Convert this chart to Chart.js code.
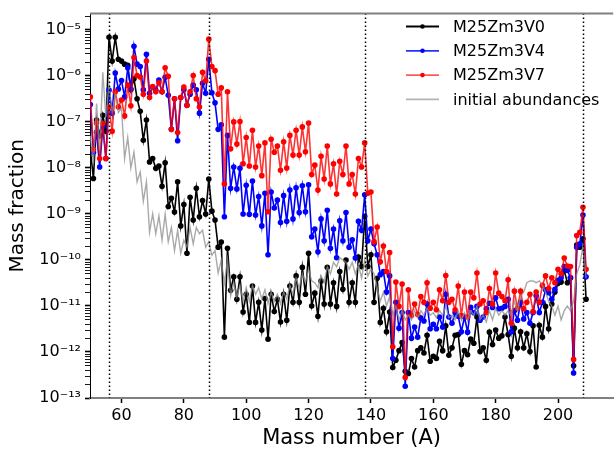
<!DOCTYPE html>
<html lang="en">
  <head>
    <meta charset="UTF-8" />
    <title>Mass fraction vs mass number</title>
    <style>
      html, body { margin: 0; padding: 0; background: #fff; }
      canvas { display: block; }
    </style>
  </head>
  <body>
    <canvas id="myChart" width="616" height="452"></canvas>

    <script src="https://cdn.jsdelivr.net/npm/chart.js"></script>

    <script>
      // mass numbers A = 50 ... 209
      const massNumbers = [
        50, 51, 52, 53, 54, 55, 56, 57, 58, 59, 60, 61, 62, 63, 64, 65, 66, 67, 68, 69,
        70, 71, 72, 73, 74, 75, 76, 77, 78, 79, 80, 81, 82, 83, 84, 85, 86, 87, 88, 89,
        90, 91, 92, 93, 94, 95, 96, 97, 98, 99, 100, 101, 102, 103, 104, 105, 106, 107, 108, 109,
        110, 111, 112, 113, 114, 115, 116, 117, 118, 119, 120, 121, 122, 123, 124, 125, 126, 127, 128, 129,
        130, 131, 132, 133, 134, 135, 136, 137, 138, 139, 140, 141, 142, 143, 144, 145, 146, 147, 148, 149,
        150, 151, 152, 153, 154, 155, 156, 157, 158, 159, 160, 161, 162, 163, 164, 165, 166, 167, 168, 169,
        170, 171, 172, 173, 174, 175, 176, 177, 178, 179, 180, 181, 182, 183, 184, 185, 186, 187, 188, 189,
        190, 191, 192, 193, 194, 195, 196, 197, 198, 199, 200, 201, 202, 203, 204, 205, 206, 207, 208, 209,
      ];

      const m25V0 = [
        2.5e-8, 5.9e-9, 1.1e-7, 5.0e-8, 1.4e-7, 6.3e-8, 6.9e-6, 2.1e-6, 6.9e-6, 2.3e-6,
        2.1e-6, 1.8e-6, 1.7e-6, 5.0e-7, 8.7e-7, 3.2e-7, 1.7e-7, 4.0e-8, 1.1e-7, 1.35e-8,
        1.6e-8, 9.8e-9, 1.1e-8, 4.0e-9, 1.3e-8, 1.45e-9, 2.2e-9, 1.1e-9, 5.0e-9, 5.5e-10,
        1.6e-9, 1.4e-10, 2.3e-9, 7.4e-10, 3.6e-9, 8.7e-10, 1.95e-9, 1.0e-9, 5.75e-9, 1.15e-9,
        7.4e-10, 1.9e-10, 2.45e-10, 2.1e-12, 1.8e-10, 2.2e-11, 4.3e-11, 1.4e-11, 4.3e-11, 7.4e-12,
        1.8e-11, 4.4e-12, 2.7e-11, 4.4e-12, 1.2e-11, 3.0e-12, 1.45e-11, 1.9e-12, 1.8e-11, 7.6e-12,
        1.4e-11, 4.5e-12, 1.8e-11, 4.9e-12, 2.7e-11, 1.2e-11, 4.5e-11, 1.2e-11, 6.9e-11, 1.8e-11,
        1.4e-10, 1.0e-11, 1.9e-11, 6.0e-12, 3.5e-11, 1.1e-11, 6.9e-11, 1.1e-11, 3.2e-11, 9.8e-12,
        5.6e-11, 2.3e-11, 1.0e-10, 1.2e-11, 3.2e-11, 1.2e-11, 1.15e-10, 7.2e-11, 8.9e-10, 7.2e-11,
        1.3e-10, 1.2e-11, 4.0e-11, 4.4e-12, 8.9e-12, 2.75e-12, 7.4e-12, 4.6e-13, 6.6e-13, 1.07e-12,
        1.6e-12, 3.8e-13, 3.4e-13, 7.2e-13, 4.7e-13, 1.07e-12, 1.23e-12, 9.5e-13, 2.3e-12, 6.3e-13,
        8.1e-13, 7.2e-13, 1.7e-12, 1.07e-12, 3.7e-12, 8.5e-13, 1.23e-12, 2.3e-12, 2.4e-12, 5.4e-13,
        1.07e-12, 8.7e-13, 1.9e-12, 1.55e-12, 5.75e-12, 1.02e-12, 1.23e-12, 6.6e-13, 2.7e-12, 1.45e-12,
        3.0e-12, 2.0e-12, 2.24e-12, 5.75e-12, 2.4e-12, 8.1e-13, 3.3e-12, 1.23e-12, 2.75e-12, 1.23e-12,
        2.5e-12, 1.02e-12, 3.7e-12, 4.7e-13, 3.8e-12, 2.1e-12, 9.8e-12, 3.2e-12, 1.1e-11, 2.0e-11,
        3.1e-11, 3.3e-11, 5.9e-11, 3.2e-11, 4.1e-11, 5.0e-13, 2.1e-10, 1.9e-10, 2.9e-10, 1.4e-11,
      ];

      const m25V4 = [
        2.4e-7, 2.2e-8, 6.0e-8, 1.05e-8, 7.9e-8, 1.6e-8, 4.9e-7, 1.55e-7, 1.15e-6, 5.2e-7,
        7.9e-7, 3.5e-7, 1.5e-6, 5.2e-7, 4.4e-6, 1.8e-6, 1.6e-6, 5.0e-7, 2.95e-6, 4.2e-7,
        5.75e-7, 4.9e-7, 8.1e-7, 4.5e-7, 9.3e-7, 3.8e-7, 6.9e-8, 3.2e-7, 3.9e-8, 3.4e-7,
        5.0e-7, 2.3e-7, 4.0e-7, 6.3e-7, 5.0e-7, 1.55e-7, 6.9e-7, 4.2e-7, 2.3e-6, 4.3e-7,
        2.6e-7, 6.9e-8, 8.7e-8, 8.7e-10, 5.1e-8, 3.6e-9, 1.05e-8, 3.5e-9, 9.8e-9, 1.0e-9,
        4.2e-9, 9.8e-10, 5.2e-9, 9.5e-10, 2.4e-9, 5.5e-10, 2.8e-9, 1.3e-10, 3.0e-9, 1.35e-9,
        2.0e-9, 6.5e-10, 2.5e-9, 6.9e-10, 3.3e-9, 7.8e-10, 3.7e-9, 1.07e-9, 4.1e-9, 1.12e-9,
        4.3e-9, 3.2e-10, 4.7e-10, 1.5e-10, 7.8e-10, 2.6e-10, 1.2e-9, 1.8e-10, 4.7e-10, 1.12e-10,
        7.1e-10, 2.6e-10, 1.07e-9, 1.9e-10, 2.75e-10, 1.1e-10, 6.9e-10, 4.4e-10, 2.6e-9, 2.6e-10,
        4.7e-10, 2.24e-10, 1.3e-10, 4.8e-11, 5.6e-11, 2.0e-11, 4.5e-11, 7.2e-13, 1.2e-11, 3.3e-12,
        7.2e-12, 1.8e-13, 7.2e-12, 2.0e-12, 3.5e-12, 2.1e-12, 5.5e-12, 4.7e-12, 1.1e-11, 3.2e-12,
        4.0e-12, 3.2e-12, 5.75e-12, 3.5e-12, 1.8e-11, 5.75e-12, 4.2e-12, 7.2e-12, 6.0e-12, 2.75e-12,
        5.75e-12, 2.7e-12, 9.3e-12, 7.1e-12, 9.8e-12, 4.9e-12, 5.75e-12, 8.7e-12, 1.15e-11, 9.3e-12,
        1.5e-11, 8.7e-12, 8.9e-12, 9.8e-12, 1.4e-11, 2.75e-12, 7.9e-12, 4.9e-12, 1.2e-11, 5.2e-12,
        7.2e-12, 4.2e-12, 7.2e-12, 1.66e-11, 7.2e-12, 1.2e-11, 2.24e-11, 1.95e-11, 1.4e-11, 2.3e-11,
        3.6e-11, 4.1e-11, 7.2e-11, 5.9e-11, 4.1e-11, 3.5e-13, 1.9e-10, 2.24e-10, 9.5e-10, 4.3e-11,
      ];

      const m25V7 = [
        3.5e-7, 2.5e-8, 9.5e-8, 1.6e-8, 9.1e-8, 1.6e-8, 2.1e-7, 6.3e-8, 4.5e-7, 2.1e-7,
        3.0e-7, 1.35e-7, 6.3e-7, 2.24e-7, 2.5e-6, 1.02e-6, 9.5e-7, 4.0e-7, 2.1e-6, 3.4e-7,
        5.9e-7, 4.5e-7, 7.1e-7, 4.5e-7, 1.5e-6, 9.8e-7, 6.9e-8, 3.2e-7, 5.9e-8, 3.4e-7,
        5.75e-7, 2.3e-7, 4.5e-7, 1.02e-6, 3.2e-7, 2.1e-7, 1.2e-6, 7.8e-7, 6.3e-6, 1.6e-6,
        1.3e-6, 4.0e-7, 5.5e-7, 4.5e-9, 4.5e-7, 2.6e-8, 1.0e-7, 3.3e-8, 1.02e-7, 1.23e-8,
        4.6e-8, 1.1e-8, 6.6e-8, 1.05e-8, 3.0e-8, 6.8e-9, 3.5e-8, 1.12e-9, 4.2e-8, 2.2e-8,
        3.0e-8, 8.9e-9, 3.7e-8, 1.0e-8, 5.1e-8, 1.9e-8, 6.6e-8, 1.9e-8, 7.8e-8, 2.24e-8,
        9.5e-8, 7.2e-9, 1.15e-8, 3.3e-9, 1.8e-8, 5.75e-9, 3.0e-8, 4.5e-9, 1.23e-8, 2.7e-9,
        1.4e-8, 7.2e-9, 3.0e-8, 4.5e-9, 7.2e-9, 2.7e-9, 1.6e-8, 1.05e-8, 3.5e-8, 2.8e-9,
        3.0e-9, 2.5e-10, 5.2e-10, 9.1e-11, 2.0e-10, 5.6e-11, 1.45e-10, 1.3e-12, 3.3e-11, 9.8e-12,
        3.0e-11, 2.8e-13, 2.24e-11, 6.2e-12, 1.1e-11, 6.5e-12, 1.6e-11, 1.2e-11, 3.2e-11, 8.9e-12,
        1.2e-11, 8.3e-12, 2.24e-11, 1.3e-11, 4.6e-11, 1.2e-11, 1.4e-11, 8.3e-12, 2.7e-11, 6.2e-12,
        2.0e-11, 5.75e-12, 2.0e-11, 1.5e-11, 5.2e-11, 1.1e-11, 1.3e-11, 7.2e-12, 2.4e-11, 1.1e-11,
        5.2e-11, 1.9e-11, 1.6e-11, 1.3e-11, 3.7e-11, 4.2e-12, 2.1e-11, 8.9e-12, 2.1e-11, 8.7e-12,
        1.2e-11, 1.8e-11, 7.6e-12, 2.0e-11, 1.2e-11, 2.8e-11, 4.5e-11, 2.4e-11, 4.1e-11, 3.2e-11,
        6.3e-11, 5.0e-11, 1.1e-10, 7.4e-11, 7.2e-11, 6.9e-13, 3.4e-10, 4.0e-10, 1.4e-9, 6.3e-11,
      ];

      const initialAbund = [
        5.0e-8, 1.26e-8, 2.5e-7, 2.5e-8, 1.2e-6, 1.26e-7, 6.3e-7, 1.6e-7, 4.0e-7, 1.6e-7,
        2.0e-7, 1.6e-8, 4.6e-8, 1.0e-8, 2.2e-8, 5.0e-9, 8.1e-9, 1.9e-9, 5.0e-9, 4.0e-10,
        1.0e-9, 3.7e-10, 9.1e-10, 2.7e-10, 9.8e-10, 2.5e-10, 5.1e-10, 1.6e-10, 4.4e-10, 1.4e-10,
        2.7e-10, 1.9e-10, 5.1e-10, 2.24e-10, 5.1e-10, 3.7e-10, 4.4e-10, 1.9e-10, 2.5e-10, 1.26e-10,
        1.6e-10, 5.2e-11, 1.0e-10, 3.2e-11, 1.0e-10, 1.66e-11, 3.2e-11, 1.6e-11, 2.8e-11, 1.26e-11,
        2.5e-11, 1.26e-11, 2.8e-11, 1.8e-11, 2.5e-11, 1.4e-11, 2.24e-11, 1.12e-11, 2.0e-11, 1.26e-11,
        1.8e-11, 1.12e-11, 2.0e-11, 1.4e-11, 2.8e-11, 1.8e-11, 4.0e-11, 2.5e-11, 5.0e-11, 3.2e-11,
        6.3e-11, 3.5e-11, 3.2e-11, 2.5e-11, 4.5e-11, 3.2e-11, 7.1e-11, 5.0e-11, 8.9e-11, 7.1e-11,
        1.12e-10, 1.0e-10, 8.9e-11, 6.3e-11, 8.9e-11, 5.0e-11, 7.9e-11, 4.0e-11, 1.0e-10, 4.5e-11,
        6.3e-11, 5.0e-11, 2.5e-11, 1.26e-11, 2.0e-11, 1.0e-11, 1.6e-11, 6.3e-12, 1.0e-11, 5.0e-12,
        7.9e-12, 5.0e-12, 6.3e-12, 5.0e-12, 7.9e-12, 5.6e-12, 7.9e-12, 6.3e-12, 8.9e-12, 6.3e-12,
        7.1e-12, 5.6e-12, 7.9e-12, 6.3e-12, 1.0e-11, 5.6e-12, 6.3e-12, 5.0e-12, 7.9e-12, 5.0e-12,
        7.1e-12, 5.0e-12, 7.9e-12, 6.3e-12, 1.0e-11, 5.0e-12, 6.3e-12, 4.5e-12, 7.9e-12, 5.0e-12,
        8.9e-12, 6.3e-12, 7.9e-12, 6.3e-12, 7.9e-12, 6.3e-12, 1.26e-11, 7.9e-12, 1.6e-11, 2.0e-11,
        3.2e-11, 3.5e-11, 3.5e-11, 3.2e-11, 3.5e-11, 2.8e-11, 2.0e-11, 1.26e-11, 1.0e-11, 6.3e-12,
        1.0e-11, 5.0e-12, 7.9e-12, 1.0e-11, 7.9e-12, 1.26e-11, 5.0e-11, 7.9e-11, 2.0e-10, 4.0e-11,
      ];

      // dotted verticals (magic-number peaks)
      const markerLines = [56, 88, 138, 208];
      const xTickValues = [60, 80, 100, 120, 140, 160, 180, 200];
      const yDecades = [-13, -12, -11, -10, -9, -8, -7, -6, -5];

      const FONT = "DejaVu Sans";
      Chart.defaults.font.family = FONT;
      Chart.defaults.color = "#000";

      const toPoints = (vals) => massNumbers.map((a, i) => ({ x: a, y: vals[i] }));

      const supMap = { "-": "\u207B", 0: "\u2070", 1: "\u00B9", 2: "\u00B2", 3: "\u00B3", 4: "\u2074", 5: "\u2075", 6: "\u2076", 7: "\u2077", 8: "\u2078", 9: "\u2079" };
      const isDecade = (v) => {
        const l = Math.log10(v);
        return Math.abs(l - Math.round(l)) < 1e-6;
      };

      // dotted vertical lines, top spine and legend
      const extras = {
        id: "extras",
        afterDatasetsDraw(chart) {
          const { ctx, chartArea: { top, bottom, left, right }, scales: { x } } = chart;
          ctx.save();
          ctx.strokeStyle = "#000";
          ctx.lineWidth = 1.5;
          ctx.setLineDash([1.5, 2.5]);
          markerLines.forEach((a) => {
            const px = Math.round(x.getPixelForValue(a)) + 0.5;
            ctx.beginPath();
            ctx.moveTo(px, top);
            ctx.lineTo(px, bottom);
            ctx.stroke();
          });
          ctx.setLineDash([]);
          ctx.strokeStyle = "#808080";
          ctx.lineWidth = 2;
          ctx.beginPath();
          ctx.moveTo(left, top);
          ctx.lineTo(right, top);
          ctx.stroke();
          ctx.restore();
        },
        afterDraw(chart) {
          const { ctx } = chart;
          ctx.save();
          chart.data.datasets.forEach((ds, i) => {
            const y = 26.5 + i * 24.3;
            ctx.strokeStyle = ds.legendLine;
            ctx.lineWidth = 1.8;
            ctx.beginPath();
            ctx.moveTo(406, y);
            ctx.lineTo(439, y);
            ctx.stroke();
            if (ds.pointRadius > 0) {
              ctx.fillStyle = ds.pointBackgroundColor;
              ctx.beginPath();
              ctx.arc(422.5, y, 2.3, 0, Math.PI * 2);
              ctx.fill();
            }
            ctx.fillStyle = "#000";
            ctx.font = `16px "${FONT}"`;
            ctx.textAlign = "left";
            ctx.textBaseline = "middle";
            ctx.fillText(ds.label, 453, y + 1);
          });
          ctx.restore();
        },
      };

      const ctx = document.getElementById("myChart").getContext("2d");

      new Chart(ctx, {
        type: "line",
        data: {
          datasets: [
            {
              label: "M25Zm3V0",
              data: toPoints(m25V0),
              borderColor: "#000",
              legendLine: "#000",
              pointBackgroundColor: "#000",
              borderWidth: 1.6,
              pointRadius: 2.8,
              pointBorderWidth: 0,
              order: 4,
            },
            {
              label: "M25Zm3V4",
              data: toPoints(m25V4),
              borderColor: "#0000ff",
              legendLine: "#2233ff",
              pointBackgroundColor: "#0000ff",
              borderWidth: 1.6,
              pointRadius: 2.8,
              pointBorderWidth: 0,
              order: 3,
            },
            {
              label: "M25Zm3V7",
              data: toPoints(m25V7),
              borderColor: "rgba(255, 0, 0, 0.8)",
              legendLine: "rgba(255, 60, 60, 0.85)",
              pointBackgroundColor: "#ff0000",
              borderWidth: 1.6,
              pointRadius: 2.8,
              pointBorderWidth: 0,
              order: 2,
            },
            {
              label: "initial abundances",
              data: toPoints(initialAbund),
              borderColor: "rgba(140, 140, 140, 0.75)",
              legendLine: "#b4b4b4",
              pointBackgroundColor: "#aaa",
              borderWidth: 1.4,
              pointRadius: 0,
              order: 1,
            },
          ],
        },
        options: {
          responsive: false,
          animation: false,
          devicePixelRatio: 1,
          layout: { padding: { top: 5, right: 0, left: 0, bottom: 0 } },
          elements: { line: { tension: 0 }, point: { hoverRadius: 2.8 } },
          plugins: {
            legend: { display: false },
            tooltip: { enabled: false },
          },
          scales: {
            x: {
              type: "linear",
              min: 49.9,
              max: 217.7,
              afterFit(scale) {
                scale.height = 54;
              },
              afterBuildTicks(scale) {
                scale.ticks = xTickValues.map((v) => ({ value: v }));
              },
              ticks: {
                autoSkip: false,
                maxRotation: 0,
                padding: 3,
                font: { size: 16 },
                callback: (v) => String(v),
              },
              grid: {
                drawOnChartArea: false,
                drawTicks: true,
                tickLength: 5,
                tickColor: "#000",
                tickWidth: 1.5,
              },
              border: { display: true, color: "#808080", width: 2 },
              title: {
                display: true,
                text: "Mass number (A)",
                font: { size: 21 },
                padding: { top: 0, bottom: 1 },
              },
            },
            y: {
              type: "logarithmic",
              min: 1e-13,
              max: 2.26e-5,
              afterFit(scale) {
                scale.width = 90;
              },
              afterBuildTicks(scale) {
                const t = [];
                yDecades.forEach((e) => {
                  for (let m = 1; m <= 9; m++) {
                    const v = m * Math.pow(10, e);
                    if (v <= scale.max) t.push({ value: v, major: m === 1 });
                  }
                });
                scale.ticks = t;
              },
              ticks: {
                autoSkip: false,
                padding: 4,
                font: { size: 16 },
                callback: (v) => {
                  if (!isDecade(v)) return "";
                  const e = String(Math.round(Math.log10(v)));
                  return "10" + e.split("").map((c) => supMap[c]).join("");
                },
              },
              grid: {
                drawOnChartArea: false,
                drawTicks: true,
                tickLength: 5,
                tickColor: "#000",
                tickWidth: (c) => (c.tick && isDecade(c.tick.value) ? 1.6 : 0.9),
              },
              border: { display: true, color: "#000", width: 1 },
              title: {
                display: true,
                text: "Mass fraction",
                font: { size: 20 },
                padding: { top: 6, bottom: 0 },
              },
            },
          },
        },
        plugins: [extras],
      });
    </script>
  </body>
</html>
